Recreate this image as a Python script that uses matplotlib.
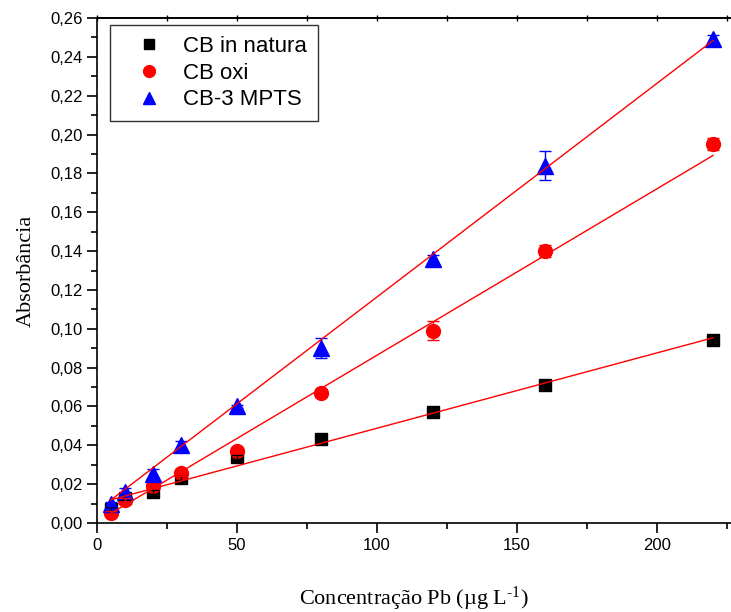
import matplotlib.pyplot as plt
import numpy as np
from matplotlib.ticker import MultipleLocator, FuncFormatter

plt.rcParams["mathtext.fontset"] = "custom"
plt.rcParams["mathtext.rm"] = "Liberation Serif"
plt.rcParams["mathtext.it"] = "Liberation Serif:italic"

# concentration of Pb (ug/L)
conc = [5, 10, 20, 30, 50, 80, 120, 160, 220]

natura = [0.007, 0.013, 0.016, 0.023, 0.034, 0.043, 0.057, 0.071, 0.094]
natura_err = [0.001, 0.001, 0.001, 0.001, 0.001, 0.001, 0.001, 0.002, 0.001]

oxi = [0.005, 0.012, 0.019, 0.026, 0.037, 0.067, 0.099, 0.140, 0.195]
oxi_err = [0.001, 0.001, 0.001, 0.002, 0.001, 0.002, 0.005, 0.003, 0.003]

mpts = [0.010, 0.016, 0.025, 0.040, 0.060, 0.090, 0.136, 0.184, 0.249]
mpts_err = [0.001, 0.002, 0.003, 0.002, 0.001, 0.005, 0.002, 0.0075, 0.002]

# linear fits (slope, intercept)
fit_natura = (0.000388, 0.0100)
fit_oxi = (0.000857, 0.0007)
fit_mpts = (0.00110, 0.0064)

series = [
    ("CB in natura", natura, natura_err, fit_natura, "black", "s", 9),
    ("CB oxi", oxi, oxi_err, fit_oxi, "red", "o", 10),
    ("CB-3 MPTS", mpts, mpts_err, fit_mpts, "blue", "^", 11),
]

fig = plt.figure(figsize=(7.31, 6.12), dpi=100)
ax = fig.add_axes([97 / 731, 1 - 523 / 612, 1 - 97 / 731, (523 - 18) / 612])

x = np.array(conc)
for label, y, err, fit, color, marker, ms in series:
    ax.plot(x, y, ls="none", marker=marker, color=color, ms=ms, label=label, zorder=3)
    ax.errorbar(x, y, yerr=err, fmt="none", ecolor=color, elinewidth=1,
                capsize=4, capthick=1, zorder=4)

for label, y, err, fit, color, marker, ms in series:
    k, b = fit
    xx = np.array([x.min(), x.max()])
    ax.plot(xx, k * xx + b, color="red", lw=1, zorder=5)

ax.set_xlim(0, 226.4)
ax.set_ylim(0, 0.26)
ax.xaxis.set_major_locator(MultipleLocator(50))
ax.xaxis.set_minor_locator(MultipleLocator(25))
ax.yaxis.set_major_locator(MultipleLocator(0.02))
ax.yaxis.set_minor_locator(MultipleLocator(0.01))
ax.yaxis.set_major_formatter(FuncFormatter(lambda v, p: f"{v:.2f}".replace(".", ",")))

ax.spines["right"].set_visible(False)
for s in ax.spines.values():
    s.set_linewidth(1.2)
ax.tick_params(which="both", direction="out", width=1.2, top=False, right=False,
               labelsize=12)
ax.tick_params(which="major", length=7)
ax.tick_params(which="minor", length=4)
for t in ax.get_xticklabels() + ax.get_yticklabels():
    t.set_family("Liberation Sans")

# small ticks along the top frame
top = ax.secondary_xaxis("top")
top.xaxis.set_major_locator(MultipleLocator(25))
top.tick_params(direction="inout", length=4, width=1, labeltop=False)
top.spines["top"].set_linewidth(1.2)

ax.set_xlabel("Concentração Pb (µg L$^{\\text{-}1}$)", family="Liberation Serif",
              fontsize=16, labelpad=23)
ax.set_ylabel("Absorbância", family="Liberation Serif", fontsize=16, labelpad=10)

leg = ax.legend(loc="upper left", bbox_to_anchor=(0.0205, 0.986), borderaxespad=0,
                frameon=True, fancybox=False, edgecolor="black", handlelength=2.5,
                handletextpad=0.3, borderpad=0.5, labelspacing=0.25,
                markerscale=0.85, prop={"family": "Liberation Sans", "size": 16})
leg.get_frame().set_linewidth(1.0)

fig.savefig("out.png", dpi=100)
